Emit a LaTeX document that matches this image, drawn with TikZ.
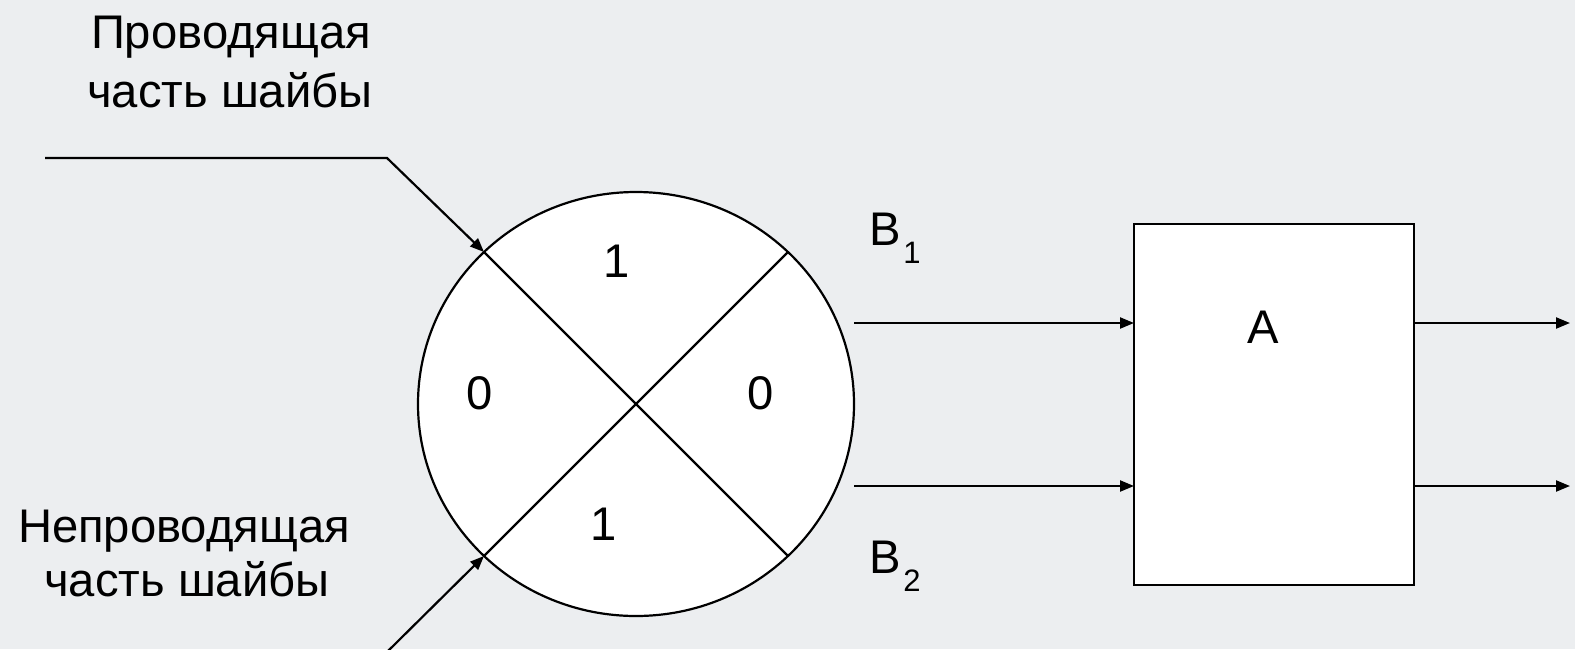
\documentclass[tikz,border=0pt]{standalone}
\usepackage{fontspec}
\setmainfont{Liberation Sans}
\usetikzlibrary{arrows.meta,shapes.geometric}
\definecolor{bgc}{RGB}{236,238,240}
\tikzset{
  lbl/.style={font=\fontsize{23.6}{28}\selectfont, inner sep=0pt, outer sep=0pt},
  ln/.style={line width=1.1pt, black},
  arr/.style={ln, -{Triangle[length=7pt,width=5.5pt]}},
  shapebox/.style={draw, fill=white, line width=1.1pt, inner sep=0pt, outer sep=0pt}
}
\newcommand{\subidx}[1]{\kern1.5pt\raisebox{-9pt}{\fontsize{15.5}{18}\selectfont #1}}
\begin{document}
\begin{tikzpicture}[x=0.5pt,y=-0.5pt]
  % background / page size
  \fill[bgc] (0,0) rectangle (1575,649);
  \useasboundingbox (0,0) rectangle (1575,649);

  % disc
  \node[shapebox, ellipse, minimum width=218pt, minimum height=212pt] (disc) at (636,404) {};
  \draw[ln] (disc.135) -- (disc.315);
  \draw[ln] (disc.45) -- (disc.225);

  % sector labels
  \node[lbl, anchor=base] (s1t) at (617,277) {1};
  \node[lbl, anchor=base] (s0l) at (480,409) {0};
  \node[lbl, anchor=base] (s0r) at (761,409) {0};
  \node[lbl, anchor=base] (s1b) at (604,540) {1};

  % upper pointer
  \coordinate (p1a) at (45,158);
  \coordinate (p1b) at (387,158);
  \draw[arr] (p1a) -- (p1b) -- (disc.135);
  \node[lbl, anchor=base] (t1a) at (231,48) {Проводящая};
  \node[lbl, anchor=base] (t1b) at (230,107) {часть шайбы};

  % lower pointer
  \coordinate (p2a) at (388,651);
  \draw[arr] (p2a) -- (disc.225);
  \node[lbl, anchor=base] (t2a) at (184,542) {Непроводящая};
  \node[lbl, anchor=base] (t2b) at (187,596) {часть шайбы};

  % block A
  \node[shapebox, rectangle, minimum width=140pt, minimum height=180.5pt] (box) at (1274,404.5) {};
  \node[lbl, anchor=base] (lblA) at (1263,343) {A};

  % inputs
  \coordinate (in1) at (854,323);
  \coordinate (in2) at (854,486);
  \draw[arr] (in1) -- (in1 -| box.west);
  \draw[arr] (in2) -- (in2 -| box.west);
  \node[lbl, anchor=base west] (b1) at (869,245) {B\subidx{1}};
  \node[lbl, anchor=base west] (b2) at (869,573) {B\subidx{2}};

  % outputs
  \coordinate (out1) at (1570,323);
  \coordinate (out2) at (1570,486);
  \draw[arr] (box.east |- out1) -- (out1);
  \draw[arr] (box.east |- out2) -- (out2);
\end{tikzpicture}
\end{document}
